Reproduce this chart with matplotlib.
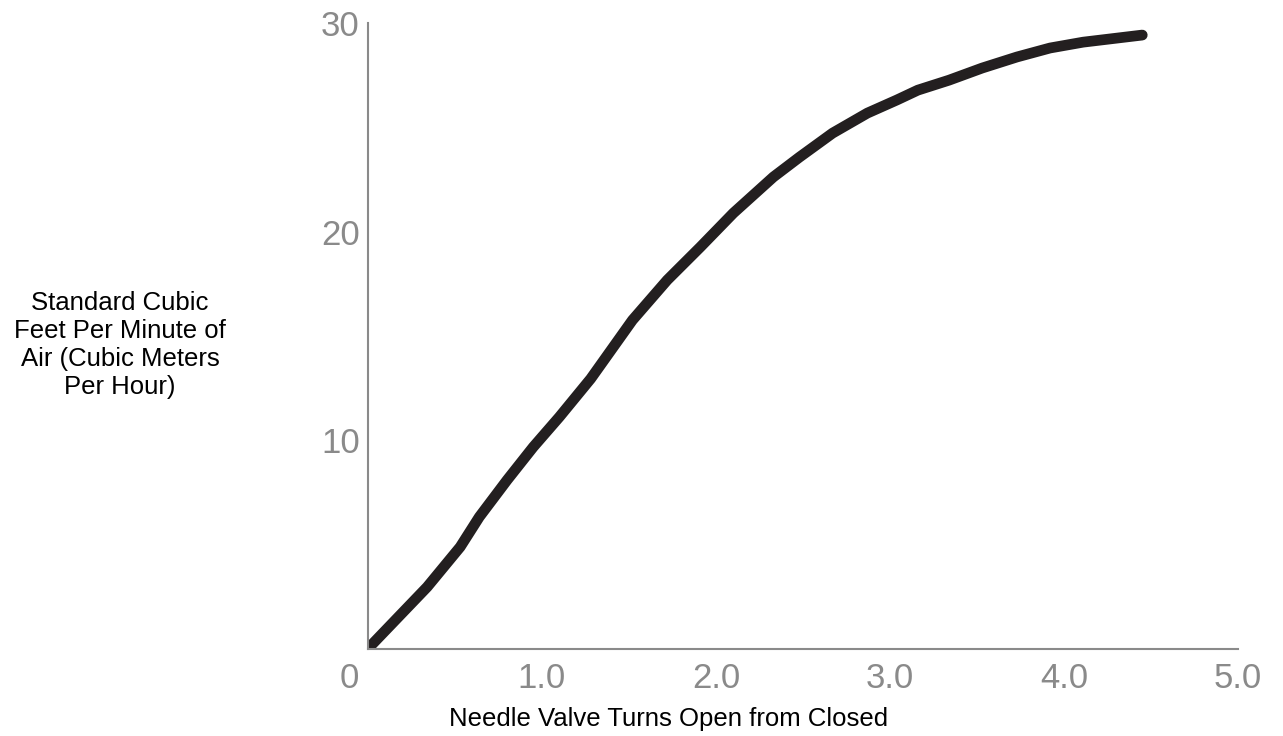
import matplotlib
matplotlib.use('Agg')
import matplotlib.pyplot as plt
from matplotlib.transforms import offset_copy

plt.rcParams['font.family'] = ['Liberation Sans', 'DejaVu Sans']

# Needle valve turns vs. air flow (SCFM)
turns = [0.02, 0.34, 0.53, 0.64, 0.80, 0.95, 1.10, 1.28, 1.52, 1.72,
         1.91, 2.10, 2.33, 2.48, 2.67, 2.87, 3.04, 3.16, 3.34, 3.53, 3.73,
         3.92, 4.11, 4.45]
scfm = [0.19, 2.97, 4.89, 6.33, 8.10, 9.68, 11.12, 12.95, 15.76, 17.68,
        19.26, 20.89, 22.62, 23.57, 24.72, 25.68, 26.31, 26.78, 27.26, 27.84,
        28.37, 28.80, 29.08, 29.42]

x_ticks = [0, 1, 2, 3, 4, 5]
x_tick_labels = ['0', '1.0', '2.0', '3.0', '4.0', '5.0']
y_ticks = [10, 20, 30]
y_tick_labels = ['10', '20', '30']

GRAY = '#8a8a8a'
LINE = '#231f20'

fig = plt.figure(figsize=(12.83, 7.36), dpi=100)
ax = fig.add_axes([0.2868, 0.1182, 0.9649 - 0.2868, 0.9688 - 0.1182])

ax.plot(turns, scfm, color=LINE, linewidth=7.7,
        solid_capstyle='round', solid_joinstyle='round')

ax.set_xlim(0, 5)
ax.set_ylim(0, 30)

for side in ('top', 'right'):
    ax.spines[side].set_visible(False)
for side in ('left', 'bottom'):
    ax.spines[side].set_color(GRAY)
    ax.spines[side].set_linewidth(1.5)

ax.set_xticks(x_ticks)
ax.set_xticklabels(x_tick_labels)
ax.set_yticks(y_ticks)
ax.set_yticklabels(y_tick_labels)
ax.tick_params(axis='both', length=0, labelsize=25, labelcolor=GRAY)
ax.tick_params(axis='x', pad=9)
ax.tick_params(axis='y', pad=6)

# the "0" sits left of the corner, not under it
lbl0 = ax.get_xticklabels()[0]
lbl0.set_horizontalalignment('right')
lbl0.set_transform(offset_copy(lbl0.get_transform(), fig=fig, x=-9, y=0, units='dots'))

fig.text(669 / 1283, 1 - 719 / 736, 'Needle Valve Turns Open from Closed',
         ha='center', va='center', fontsize=18.5, color='black')
fig.text(120 / 1283, 1 - 345 / 736,
         'Standard Cubic\nFeet Per Minute of\nAir (Cubic Meters\nPer Hour)',
         ha='center', va='center', fontsize=18.5, color='black', linespacing=1.2)

fig.savefig('out.png', dpi=100, facecolor='white')
